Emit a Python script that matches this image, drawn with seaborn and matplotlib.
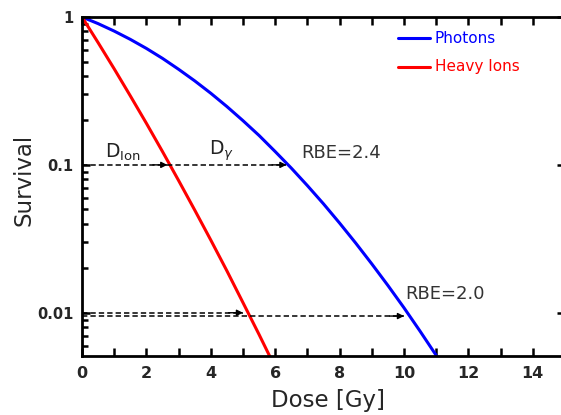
import numpy as np
import pandas as pd
import matplotlib
matplotlib.use("Agg")
import matplotlib.pyplot as plt
import matplotlib.ticker as mticker
import seaborn as sns

# --- data ---
dose_photons = [0, 0.5, 1, 1.5, 2, 2.5, 3, 3.5, 4, 4.5, 5, 5.5, 6, 6.5, 7, 7.5,
                8, 8.5, 9, 9.5, 10, 10.5, 11, 11.5]
surv_photons = [1.0, 0.902, 0.803, 0.706, 0.613, 0.525, 0.443, 0.370, 0.305, 0.248,
                0.199, 0.158, 0.123, 0.0951, 0.0724, 0.0545, 0.0404, 0.0296, 0.0214,
                0.0153, 0.0108, 0.0075, 0.00515, 0.00349]
dose_ions = [0, 0.5, 1, 1.5, 2, 2.5, 3, 3.5, 4, 4.5, 5, 5.5, 6]
surv_ions = [1.0, 0.671, 0.446, 0.293, 0.191, 0.123, 0.0784, 0.0495, 0.0310,
             0.0192, 0.0117, 0.00712, 0.00427]
series_names = ["Photons", "Heavy Ions"]
series_colors = ["#0000ff", "#ff0000"]

# arrows: (survival level, start dose, end dose)
arrows = [(0.1, 0.0, 2.65), (0.1, 2.65, 6.35), (0.0100, 0.0, 5.0), (0.0095, 0.0, 10.0)]
rbe_labels = [("RBE=2.4", 6.8, 0.1047), ("RBE=2.0", 10.05, 0.0116)]

df = pd.concat([
    pd.DataFrame({"Dose": dose_photons, "Survival": surv_photons, "Type": series_names[0]}),
    pd.DataFrame({"Dose": dose_ions, "Survival": surv_ions, "Type": series_names[1]}),
])

sns.set_style("ticks")
plt.rcParams["font.family"] = ["DejaVu Sans"]

fig = plt.figure(figsize=(5.61, 4.15), dpi=100)
ax = fig.add_axes([82 / 561, 1 - 356 / 415, 483 / 561, (356 - 17) / 415])

sns.lineplot(data=df, x="Dose", y="Survival", hue="Type",
             palette=dict(zip(series_names, series_colors)), lw=2.2, ax=ax,
             legend=False, sort=False)

ax.set_yscale("log")
ax.set_xlim(0, 15)
ax.set_ylim(0.0051, 1)

# dashed arrows
for y, x0, x1 in arrows:
    ax.plot([x0, x1], [y, y], ls=(0, (3.5, 2)), color="black", lw=1.1)
    ax.annotate("", xy=(x1, y), xytext=(x1 - 0.45, y),
                arrowprops=dict(arrowstyle="-|>", color="black", lw=1.0,
                                mutation_scale=9, shrinkA=0, shrinkB=0))

ax.text(0.72, 0.1035, r"D$_{\mathregular{Ion}}$", fontsize=13.5, color="#222222",
        va="bottom")
ax.text(3.95, 0.1035, r"D$_{\gamma}$", fontsize=13.5, color="#222222",
        va="bottom")
for txt, x, y in rbe_labels:
    ax.text(x, y, txt, fontsize=13, color="#333333", va="bottom")

# legend
for i, (name, col) in enumerate(zip(series_names, series_colors)):
    yy = 0.938 - i * 0.085
    ax.plot([0.655, 0.72], [yy, yy], transform=ax.transAxes, color=col, lw=2.2)
    ax.text(0.73, yy, name, transform=ax.transAxes, color=col, fontsize=11,
            va="center")

# ticks
ax.xaxis.set_major_locator(mticker.MultipleLocator(2))
ax.xaxis.set_minor_locator(mticker.MultipleLocator(1))
ax.yaxis.set_major_locator(mticker.FixedLocator([0.01, 0.1, 1]))
ax.yaxis.set_major_formatter(mticker.FixedFormatter(["0.01", "0.1", "1"]))
ax.yaxis.set_minor_locator(mticker.LogLocator(base=10, subs=np.arange(2, 10)))
ax.yaxis.set_minor_formatter(mticker.NullFormatter())
ax.tick_params(which="both", direction="in", top=True, right=True, width=1.8,
               color="black")
ax.tick_params(which="major", length=6)
ax.tick_params(which="minor", length=4)
ax.tick_params(axis="y", which="minor", right=False)
ax.tick_params(axis="x", which="minor", length=6)
for lab in ax.get_xticklabels():
    lab.set_fontweight("bold")
    lab.set_fontsize(11.5)
for lab in ax.get_yticklabels():
    lab.set_fontweight("bold")
    lab.set_fontsize(10.5)
ax.tick_params(axis="x", pad=7)
ax.tick_params(axis="y", pad=6)

for sp in ax.spines.values():
    sp.set_linewidth(2)
    sp.set_color("black")

ax.set_xlabel("Dose [Gy]", fontsize=16.5)
ax.xaxis.set_label_coords((328 - 82) / 483, -0.097)
ax.set_ylabel("Survival", fontsize=16.5)
ax.yaxis.set_label_coords((36 - 82) / 483, 0.52)

fig.savefig("out.png", dpi=100)
